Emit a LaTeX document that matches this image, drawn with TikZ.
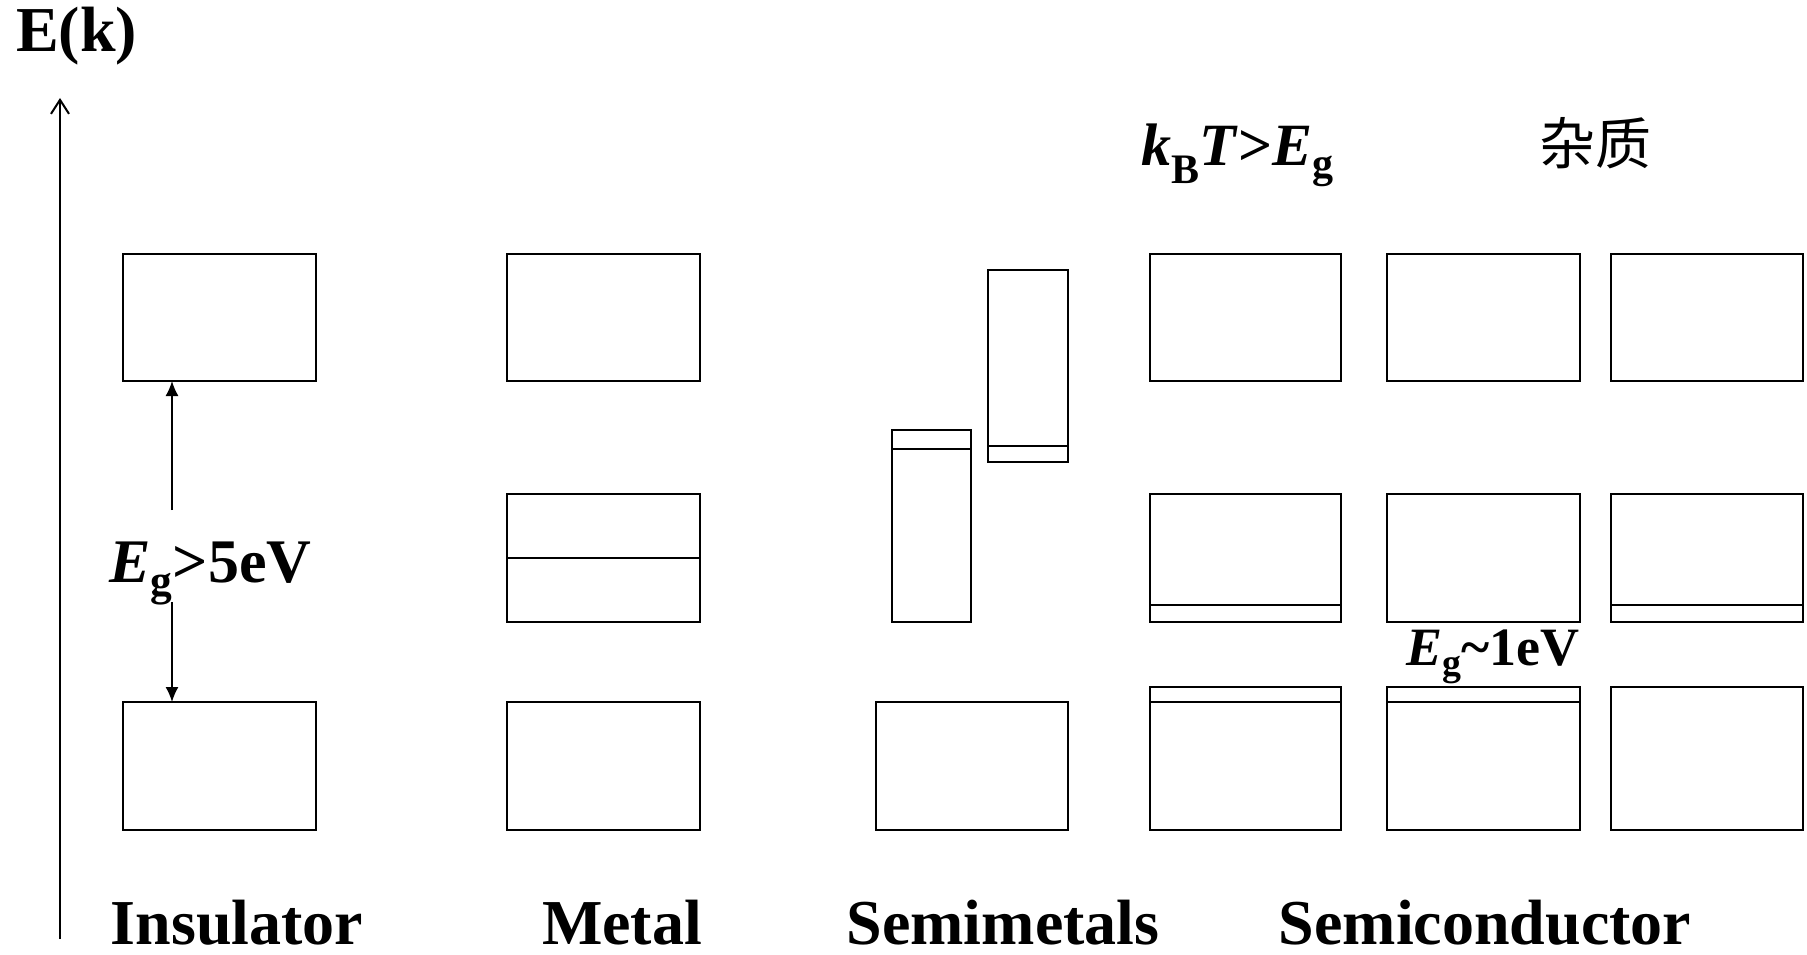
\documentclass[tikz,border=0pt]{standalone}
\usepackage{fontspec}
\setmainfont{Liberation Serif}
\newfontfamily\cjk{Noto Sans CJK SC}
\usetikzlibrary{arrows.meta}
\tikzset{
  band/.style={draw, line width=2.5pt, inner sep=0pt, outer sep=0pt},
  lbl/.style={inner sep=0pt, font=\bfseries\fontsize{64}{70}\selectfont},
  gaparrow/.style={line width=1.6pt, -{Latex[length=15pt,width=13pt]}},
  divider/.style={line width=2.5pt}
}
\newcommand\bx[5]{\node[band, minimum width={#4pt-#2pt}, minimum height={#5pt-#3pt}] (#1) at ({(#2+#4)/2},{(#3+#5)/2}) {};}
\newcommand\dv[2]{\draw[divider] (#1.west |- 0,#2) -- (#1.east |- 0,#2);}
\newcommand\sbs[1]{\raisebox{-0.28em}{\fontsize{0.62em}{0.7em}\selectfont #1}}
\begin{document}
\begin{tikzpicture}[x=1pt,y=-1pt]
\useasboundingbox (0,0) rectangle (1807,955);
% axis
\coordinate (ax0) at (60,939);
\coordinate (ax1) at (60,98);
\draw[line width=2pt, -{Straight Barb[length=14pt,width=18pt,line width=2pt]}] (ax0) -- (ax1);
\node[lbl, anchor=base west] (Ek) at (16,52) {E(k)};
% Insulator
\bx{iu}{123}{254}{316}{381}
\bx{il}{123}{702}{316}{830}
\node[lbl, anchor=base west, font=\bfseries\fontsize{62}{68}\selectfont] (eg5) at (109,582) {\textit{E}\textsubscript{g}>5eV};
\coordinate (a1) at (172,510);
\coordinate (a2) at (172,602);
\draw[gaparrow] (a1) -- (a1 |- iu.south);
\draw[gaparrow] (a2) -- (a2 |- il.north);
% Metal
\bx{mu}{507}{254}{700}{381}
\bx{mm}{507}{494}{700}{622}
\dv{mm}{558}
\bx{ml}{507}{702}{700}{830}
% Semimetals
\bx{sa}{892}{430}{971}{622}
\dv{sa}{449}
\bx{sb}{988}{270}{1068}{462}
\dv{sb}{446}
\bx{sl}{876}{702}{1068}{830}
% Semiconductor col 1
\bx{c1u}{1150}{254}{1341}{381}
\bx{c1m}{1150}{494}{1341}{622}
\dv{c1m}{605}
\bx{c1l}{1150}{687}{1341}{830}
\dv{c1l}{702}
% col 2
\bx{c2u}{1387}{254}{1580}{381}
\bx{c2m}{1387}{494}{1580}{622}
\bx{c2l}{1387}{687}{1580}{830}
\dv{c2l}{702}
% col 3
\bx{c3u}{1611}{254}{1803}{381}
\bx{c3m}{1611}{494}{1803}{622}
\dv{c3m}{605}
\bx{c3l}{1611}{687}{1803}{830}
% top labels
\node[lbl, anchor=base west, font=\bfseries\fontsize{60}{66}\selectfont] (kbt) at (1141,165) {\textit{k}\textsubscript{B}\textit{T}>\textit{E}\textsubscript{g}};
\node[inner sep=0pt, font=\cjk\fontsize{56}{60}\selectfont] (imp) at (1595,143) {杂质};
\node[lbl, anchor=base west, font=\bfseries\fontsize{54}{60}\selectfont] (eg1) at (1406,665) {\textit{E}\textsubscript{g}\textasciitilde 1eV};
% bottom labels
\node[lbl, anchor=base] (l1) at (237,944) {Insulator};
\node[lbl, anchor=base] (l2) at (622,944) {Metal};
\node[lbl, anchor=base] (l3) at (1003,944) {Semimetals};
\node[lbl, anchor=base] (l4) at (1485,944) {Semiconductor};
\end{tikzpicture}
\end{document}
